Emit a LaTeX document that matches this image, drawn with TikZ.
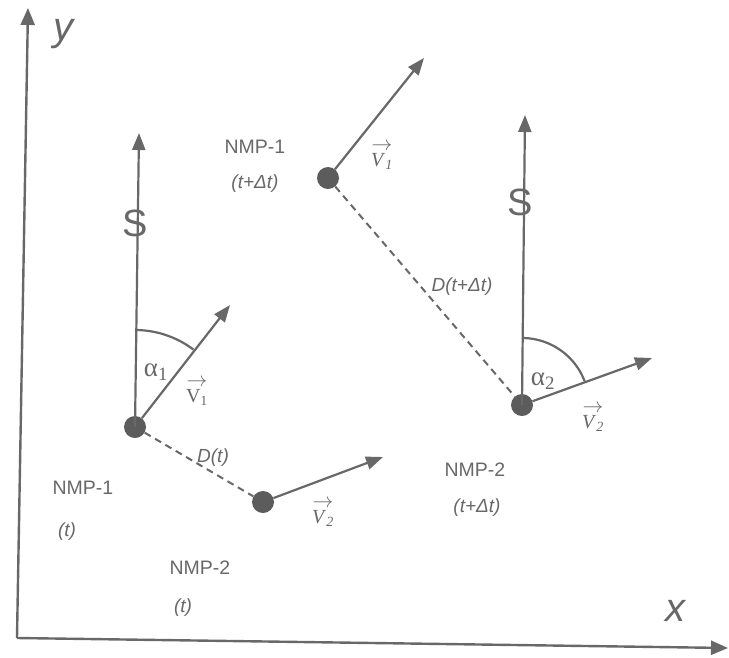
\documentclass[tikz,border=0pt]{standalone}
\usepackage{fontspec}
\setmainfont{Liberation Serif}
\setsansfont{Liberation Sans}
\usetikzlibrary{arrows.meta}
\definecolor{ink}{HTML}{686868}
\definecolor{dot}{HTML}{5C5C5C}
\begin{document}
\begin{tikzpicture}[x=1pt,y=-1pt,
  line/.style={draw=ink, line width=2.2pt},
  vec/.style={line, -{Triangle[length=17pt,width=13pt]}},
  axis/.style={draw=ink, line width=2.4pt, -{Triangle[length=17pt,width=14pt]}},
  dist/.style={draw=ink, line width=2pt, dash pattern=on 7pt off 5pt},
  particle/.style={circle, fill=dot, minimum size=22pt, inner sep=0pt},
  lbl/.style={text=ink, font=\sffamily\fontsize{19.5}{22}\selectfont, inner sep=0pt},
  ilbl/.style={text=ink, font=\sffamily\itshape\fontsize{19}{22}\selectfont, inner sep=0pt},
  axlbl/.style={text=ink, font=\sffamily\itshape\fontsize{40}{44}\selectfont, inner sep=0pt},
  slbl/.style={text=ink, font=\sffamily\fontsize{38}{40}\selectfont, inner sep=0pt},
  alpha/.style={text=ink, font=\fontsize{27}{28}\selectfont, inner sep=0pt},
  vlbl/.style={text=ink, font=\fontsize{20}{16}\selectfont, align=center, inner sep=0pt}
]
\useasboundingbox (0,0) rectangle (729,657);
% axes
\coordinate (o) at (17,638);
\coordinate (ytip) at (28,8);
\coordinate (xtip) at (728,648);
\draw[axis] (o) -- (ytip);
\draw[axis] (o) -- (xtip);
\node[axlbl] (ylab) at (63,34) {y};
\node[axlbl] (xlab) at (675,611) {x};
% particles
\node[particle] (p1) at (135,427) {};
\node[particle] (p2) at (263,502) {};
\node[particle] (p3) at (328,178) {};
\node[particle] (p4) at (522,405) {};
\coordinate (s1) at (139,133);
\coordinate (v1) at (230,305);
\coordinate (v2) at (383,457);
\coordinate (v3) at (424,58);
\coordinate (s2) at (525,115);
\coordinate (v4) at (652,358);
% reference directions S
\draw[vec] (p1.center) -- (s1);
\draw[vec] (p4.center) -- (s2);
% velocity vectors
\draw[vec] (p1) -- (v1);
\draw[vec] (p2) -- (v2);
\draw[vec] (p3) -- (v3);
\draw[vec] (p4) -- (v4);
% distances
\draw[dist] (p1) -- (p2);
\draw[dist] (p3) -- (p4);
% angles
\draw[line] plot[domain=-90:-53, samples=25, smooth] ({135+97*cos(\x)},{427+97*sin(\x)});
\draw[line] plot[domain=-90:-21, samples=25, smooth] ({522+67*cos(\x)},{405+67*sin(\x)});
% labels
\node[slbl] (S1) at (135,223) {S};
\node[slbl] (S2) at (520,202) {S};
\node[alpha] (a1) at (156,372) {α\textsubscript{1}};
\node[alpha] (a2) at (543,381) {α\textsubscript{2}};
\node[vlbl] (lv1) at (197,392) {$\rightarrow$\\V\textsubscript{1}};
\node[vlbl] (lv2) at (323,513) {$\rightarrow$\\\textit{V}\textsubscript{\textit{2}}};
\node[vlbl] (lv3) at (382,156) {$\rightarrow$\\\textit{V}\textsubscript{\textit{1}}};
\node[vlbl] (lv4) at (593,418) {$\rightarrow$\\\textit{V}\textsubscript{\textit{2}}};
\node[ilbl] (dt) at (213,458) {D(t)};
\node[ilbl] (dtt) at (462,287) {D(t+Δt)};
\node[lbl] (n1a) at (255,147) {NMP-1};
\node[ilbl] (n1at) at (255,184) {(t+Δt)};
\node[lbl] (n1b) at (83,488) {NMP-1};
\node[ilbl] (n1bt) at (67,532) {(t)};
\node[lbl] (n2a) at (200,568) {NMP-2};
\node[ilbl] (n2at) at (183,608) {(t)};
\node[lbl] (n2b) at (475,470) {NMP-2};
\node[ilbl] (n2bt) at (477,508) {(t+Δt)};
\end{tikzpicture}
\end{document}
